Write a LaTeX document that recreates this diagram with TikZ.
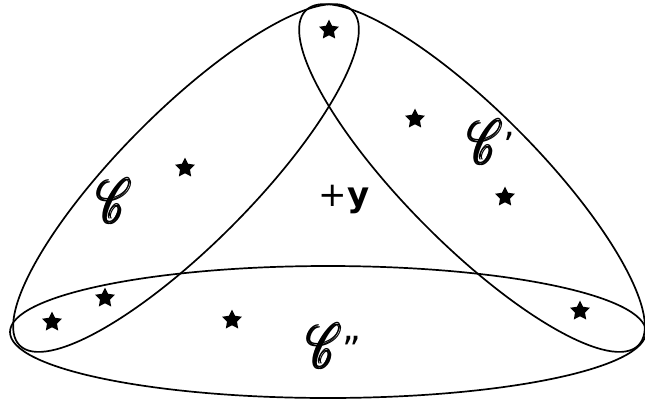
\documentclass[tikz,border=0pt]{standalone}
\usepackage{fontspec}
\usepackage{graphicx}
\usepackage{amsmath}
\usepackage{mathrsfs}
\setsansfont{DejaVu Sans}
\usetikzlibrary{shapes.geometric}
\newcommand{\bigC}{\scalebox{4.2}[6.2]{\fontsize{10}{10}\selectfont$\pmb{\mathscr{C}}$}}
\newcommand{\primes}[1]{{\sffamily\fontsize{36}{36}\selectfont\raisebox{6pt}{#1}}}
\begin{document}
\begin{tikzpicture}[x=1pt,y=-1pt,
  set/.style={draw=black,line width=1.7pt},
  starmark/.style={star,star points=5,star point ratio=2.0,fill=black,inner sep=0pt,minimum size=21pt},
  lab/.style={inner sep=0pt}]
\useasboundingbox (0,0) rectangle (645,402);
% sets
\draw[set,rotate around={45.2:(186,178)}] (186,178) ellipse (236 and 66.5);
\draw[set,rotate around={-45.2:(472,178)}] (472,178) ellipse (236 and 66.5);
\draw[set] (328,332) ellipse (318 and 66);
% elements
\node[starmark] (s1) at (329,30) {};
\node[starmark] (s2) at (185,168) {};
\node[starmark] (s3) at (415,119) {};
\node[starmark] (s4) at (505,197) {};
\node[starmark] (s5) at (105,298) {};
\node[starmark] (s6) at (52,322) {};
\node[starmark] (s7) at (232,320) {};
\node[starmark] (s8) at (580,311) {};
% labels
\node[lab] (c1) at (115,201) {\bigC};
\node[lab] (c2) at (492,142) {\bigC\primes{'}};
\node[lab] (c3) at (334,346) {\bigC\primes{''}};
\node[inner sep=0pt,font=\sffamily\fontsize{34}{34}\selectfont] (y) at (344,200) {+\textbf{y}};
\end{tikzpicture}
\end{document}
